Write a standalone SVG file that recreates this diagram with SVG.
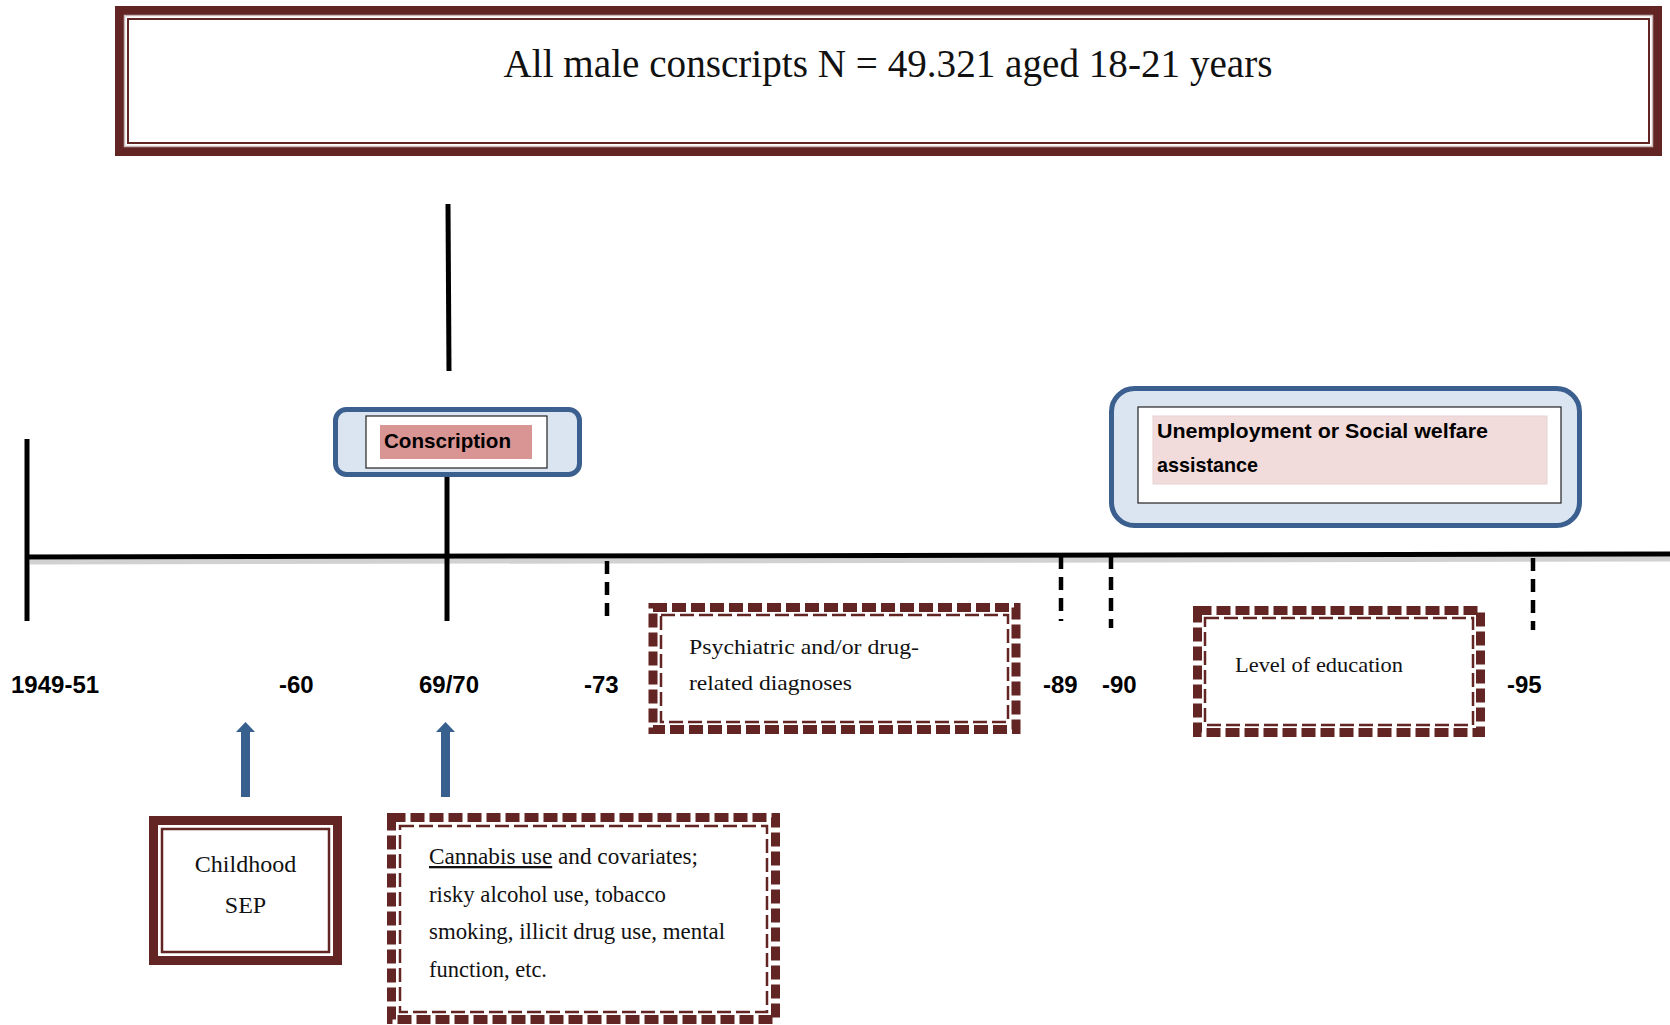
<svg xmlns="http://www.w3.org/2000/svg" width="1670" height="1025" viewBox="0 0 1670 1025">
<defs>
<style>
.serif{font-family:"Liberation Serif","Times New Roman",serif;fill:#111;}
.bold{font-family:"Liberation Sans",Arial,sans-serif;font-weight:bold;fill:#000;}
.tick{font-family:"Liberation Sans",Arial,sans-serif;font-weight:bold;font-size:24px;fill:#000;}
.solid{stroke:#000;stroke-width:5;fill:none;}
.dtick{stroke:#000;stroke-width:4.5;stroke-dasharray:13 8;fill:none;}
.dashout{fill:none;stroke:#632523;stroke-width:9;stroke-dasharray:14 5;}
.dashin{fill:none;stroke:#632523;stroke-width:2.5;stroke-dasharray:14 5;}
.blue{fill:#dbe5f1;stroke:#3b5f8e;stroke-width:5;}
.arrow{fill:#37608f;}
.shadow{stroke:#999;stroke-opacity:0.45;stroke-width:5;fill:none;}
</style>
</defs>
<rect width="1670" height="1025" fill="#fff"/>

<g id="connectors">
  <line class="shadow" x1="30" y1="562" x2="1670" y2="559"/>
  <line class="solid" x1="27" y1="557" x2="1670" y2="554" stroke-width="6"/>
  <line class="solid" x1="27" y1="439" x2="27" y2="621"/>
  <line class="solid" x1="448" y1="204" x2="449" y2="371"/>
  <line class="solid" x1="447" y1="475" x2="447" y2="621"/>
  <line class="dtick" x1="607" y1="561" x2="607" y2="623"/>
  <line class="dtick" x1="1061" y1="556" x2="1061" y2="621"/>
  <line class="dtick" x1="1111" y1="556" x2="1111" y2="628"/>
  <line class="dtick" x1="1533" y1="558" x2="1533" y2="630"/>
  <polygon class="arrow" points="245.5,722 255,732 250,732 250,797 241,797 241,732 236,732"/>
  <polygon class="arrow" points="445.5,722 455,732 450,732 450,797 441,797 441,732 436,732"/>
</g>

<g id="title">
  <rect x="119.5" y="10.5" width="1538" height="141" fill="#fff" stroke="#632523" stroke-width="9"/>
  <rect x="124.5" y="15.5" width="1528" height="131" fill="none" stroke="#c8b8b8" stroke-width="1.5"/>
  <rect x="128" y="19" width="1521" height="124" fill="none" stroke="#632523" stroke-width="2"/>
  <text class="serif" x="888" y="77" font-size="40" text-anchor="middle" textLength="769" lengthAdjust="spacingAndGlyphs">All male conscripts N = 49.321 aged 18-21 years</text>
</g>

<g id="conscription">
  <rect class="blue" x="335.5" y="409.5" width="244" height="65" rx="11"/>
  <rect x="366" y="416" width="181" height="52" fill="#fff" stroke="#222" stroke-width="1.2"/>
  <rect x="380" y="425" width="152" height="34" fill="#d99594"/>
  <text class="bold" x="384" y="448" font-size="21" textLength="127" lengthAdjust="spacingAndGlyphs">Conscription</text>
</g>

<g id="unemployment">
  <rect class="blue" x="1111.5" y="388.5" width="468" height="137" rx="23"/>
  <rect x="1138" y="407" width="423" height="96" fill="#fff" stroke="#222" stroke-width="1.2"/>
  <rect x="1153" y="416" width="394" height="68" fill="#f2dcdb" stroke="#e6d2d2" stroke-width="1"/>
  <text class="bold" x="1157" y="438" font-size="21" textLength="331" lengthAdjust="spacingAndGlyphs">Unemployment or Social welfare</text>
  <text class="bold" x="1157" y="472" font-size="21" textLength="101" lengthAdjust="spacingAndGlyphs">assistance</text>
</g>

<g id="timeline-labels">
  <text class="tick" x="11" y="693">1949-51</text>
  <text class="tick" x="279" y="693">-60</text>
  <text class="tick" x="419" y="693">69/70</text>
  <text class="tick" x="584" y="693">-73</text>
  <text class="tick" x="1043" y="693">-89</text>
  <text class="tick" x="1102" y="693">-90</text>
  <text class="tick" x="1507" y="693">-95</text>
</g>

<g id="psychiatric">
  <rect class="dashout" x="653" y="607.5" width="363" height="122"/>
  <rect class="dashin" x="661" y="615" width="347" height="107"/>
  <text class="serif" x="689" y="654" font-size="22" textLength="230" lengthAdjust="spacingAndGlyphs">Psychiatric and/or drug-</text>
  <text class="serif" x="689" y="690" font-size="22" textLength="163" lengthAdjust="spacingAndGlyphs">related diagnoses</text>
</g>

<g id="education">
  <rect class="dashout" x="1197.5" y="610.5" width="283" height="122"/>
  <rect class="dashin" x="1205" y="618" width="268" height="107"/>
  <text class="serif" x="1235" y="672" font-size="22" textLength="168" lengthAdjust="spacingAndGlyphs">Level of education</text>
</g>

<g id="childhood">
  <rect x="153.5" y="820.5" width="184" height="140" fill="#fff" stroke="#632523" stroke-width="9"/>
  <rect x="162" y="829" width="167" height="123" fill="none" stroke="#632523" stroke-width="2.5"/>
  <text class="serif" x="245.5" y="872" font-size="24" text-anchor="middle">Childhood</text>
  <text class="serif" x="245.5" y="913" font-size="24" text-anchor="middle">SEP</text>
</g>

<g id="cannabis">
  <rect class="dashout" x="391.5" y="817.5" width="384" height="202"/>
  <rect class="dashin" x="400" y="826" width="367" height="186"/>
  <text class="serif" x="429" y="864" font-size="23" textLength="269" lengthAdjust="spacingAndGlyphs"><tspan text-decoration="underline">Cannabis use</tspan> and covariates;</text>
  <text class="serif" x="429" y="902" font-size="23" textLength="237" lengthAdjust="spacingAndGlyphs">risky alcohol use, tobacco</text>
  <text class="serif" x="429" y="939" font-size="23" textLength="296" lengthAdjust="spacingAndGlyphs">smoking, illicit drug use, mental</text>
  <text class="serif" x="429" y="977" font-size="23" textLength="118" lengthAdjust="spacingAndGlyphs">function, etc.</text>
</g>
</svg>
